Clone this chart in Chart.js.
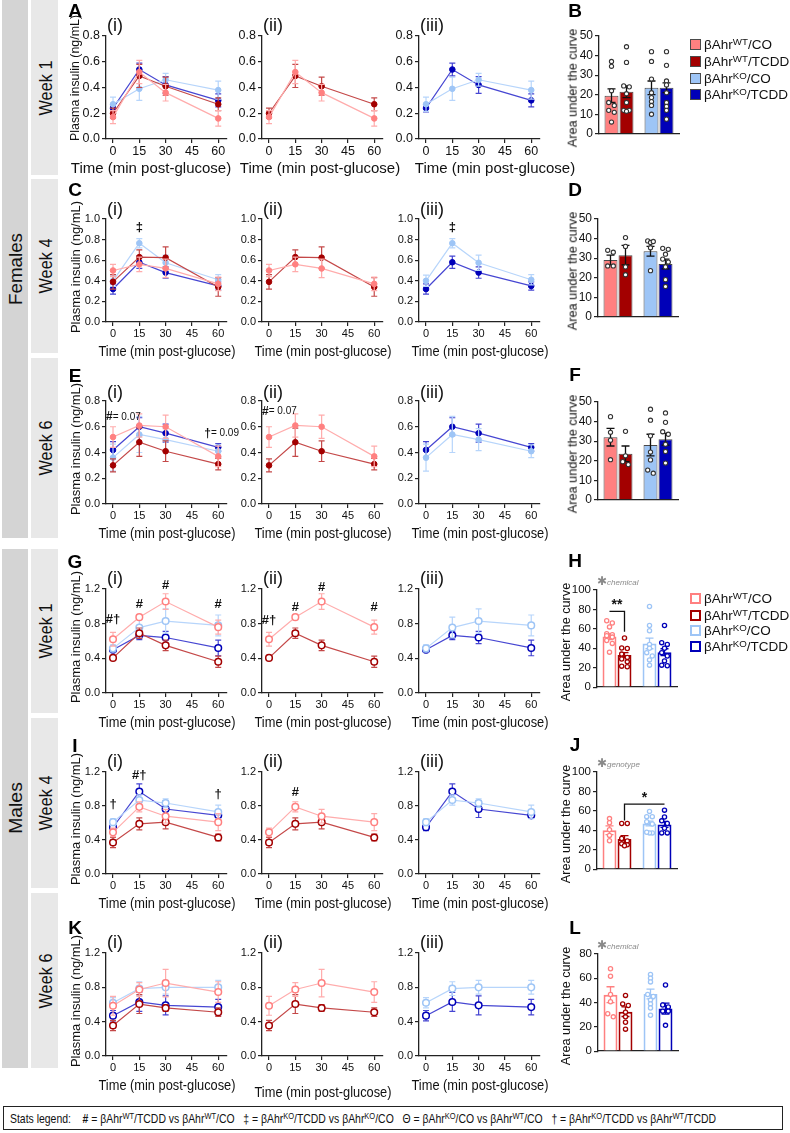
<!DOCTYPE html>
<html><head><meta charset="utf-8">
<script src="https://cdn.jsdelivr.net/npm/chart.js@4.4.1/dist/chart.umd.min.js"></script>
<style>
html,body{margin:0;padding:0;background:#fff}
body{width:790px;height:1133px;position:relative;overflow:hidden;font-family:"Liberation Sans",Arial,Helvetica,sans-serif;color:#1a1a1a}
.t{position:absolute;white-space:nowrap;line-height:1}
sup{font-size:0.72em;vertical-align:0.42em;line-height:0}
</style></head><body>
<script>
// ---------------- DATA ----------------
const times = [0, 15, 30, 60];
const timeTicks = [0, 15, 30, 45, 60];
const yTicks08 = [0, 0.2, 0.4, 0.6, 0.8];
const yTicks10 = [0, 0.2, 0.4, 0.6, 0.8, 1.0];
const yTicks12 = [0, 0.4, 0.8, 1.2];
const aucTicks50 = [0, 10, 20, 30, 40, 50];
const aucTicks100 = [0, 20, 40, 60, 80, 100];
const aucTicks80 = [0, 20, 40, 60, 80];
const groupGenotype = ['WT', 'WT', 'KO', 'KO'];
const groupTreatment = ['CO', 'TCDD', 'CO', 'TCDD'];

// Females, week 1
const f1WtCo = [0.17, 0.52, 0.36, 0.16],   f1WtCoSem = [0.05, 0.09, 0.065, 0.06];
const f1WtTcdd = [0.20, 0.49, 0.41, 0.27], f1WtTcddSem = [0.04, 0.09, 0.07, 0.05];
const f1KoCo = [0.27, 0.39, 0.46, 0.38],   f1KoCoSem = [0.055, 0.09, 0.05, 0.07];
const f1KoTcdd = [0.24, 0.54, 0.42, 0.30], f1KoTcddSem = [0.03, 0.05, 0.065, 0.05];
const f1Auc = [19.5, 21.5, 23.5, 23.5], f1AucSem = [3.5, 3, 3.5, 2.5];
const f1AucDots = [[37, 34.5, 22, 16, 14.5, 12, 11, 6], [44.5, 36.5, 24.5, 24, 20.5, 16, 12, 12, 11.5], [42, 37, 28, 21, 18.5, 16.5, 14.5, 10], [42, 35, 27, 25, 21, 16, 14, 12, 7.5]];

// Females, week 4
const f4WtCo = [0.50, 0.56, 0.52, 0.37],    f4WtCoSem = [0.06, 0.07, 0.09, 0.065];
const f4WtTcdd = [0.39, 0.63, 0.625, 0.34], f4WtTcddSem = [0.07, 0.07, 0.105, 0.09];
const f4KoCo = [0.40, 0.765, 0.575, 0.41],  f4KoCoSem = [0.055, 0.045, 0.075, 0.05];
const f4KoTcdd = [0.32, 0.58, 0.48, 0.35],  f4KoTcddSem = [0.05, 0.06, 0.055, 0.04];
const f4Auc = [29, 31.5, 33.5, 27], f4AucSem = [2.5, 5, 2.5, 2.5];
const f4AucDots = [[34, 33, 26, 26], [40.5, 36, 25.5, 21.5], [38.8, 38, 38.5, 35.3, 23.6], [35, 34.5, 32, 29.5, 28, 25.5, 19, 15.5]];

// Females, week 6
const f6WtCo = [0.52, 0.61, 0.60, 0.37],   f6WtCoSem = [0.08, 0.09, 0.09, 0.08];
const f6WtTcdd = [0.30, 0.48, 0.41, 0.31], f6WtTcddSem = [0.05, 0.11, 0.08, 0.045];
const f6KoCo = [0.36, 0.54, 0.50, 0.41],   f6KoCoSem = [0.105, 0.14, 0.085, 0.05];
const f6KoTcdd = [0.42, 0.60, 0.55, 0.44], f6KoTcddSem = [0.065, 0.07, 0.07, 0.03];
const f6Auc = [32, 23.5, 28, 31], f6AucSem = [4.5, 4, 5.5, 3];
const f6AucDots = [[42.5, 34.5, 30.5, 20.5], [35, 22.5, 19.5, 18], [46.3, 40.7, 32.7, 24.4, 20.4, 15.2, 13.6], [44.4, 39.6, 34.8, 33.5, 28.4, 24.7, 18.8]];

// Males, week 1
const m1WtCo = [0.62, 0.875, 1.055, 0.76],  m1WtCoSem = [0.08, 0.02, 0.09, 0.08];
const m1WtTcdd = [0.405, 0.69, 0.55, 0.36], m1WtTcddSem = [0.02, 0.06, 0.06, 0.065];
const m1KoCo = [0.515, 0.755, 0.83, 0.78], m1KoCoSem = [0.04, 0.12, 0.14, 0.12];
const m1KoTcdd = [0.50, 0.665, 0.64, 0.52], m1KoTcddSem = [0.03, 0.05, 0.07, 0.09];
const m1Auc = [52, 33, 45, 36], m1AucSem = [3, 2.5, 5.5, 3.5];
const m1AucDots = [[68.4, 66, 62, 55, 54, 53, 51.5, 48, 45, 36], [50.6, 40.3, 39.7, 34, 30.6, 29, 26, 21.6, 21], [83, 63.5, 58, 44, 40, 35.5, 32, 28, 22.6], [63.5, 45.8, 44, 40, 35.5, 32, 27, 22.6, 22]];

// Males, week 4
const m4WtCo = [0.49, 0.79, 0.68, 0.61],    m4WtCoSem = [0.05, 0.06, 0.08, 0.10];
const m4WtTcdd = [0.37, 0.59, 0.61, 0.43],  m4WtTcddSem = [0.06, 0.07, 0.08, 0.04];
const m4KoCo = [0.61, 0.87, 0.835, 0.73],   m4KoCoSem = [0.04, 0.06, 0.05, 0.08];
const m4KoTcdd = [0.55, 0.97, 0.765, 0.69], m4KoTcddSem = [0.04, 0.09, 0.10, 0.02];
const m4Auc = [40, 31, 47, 46], m4AucSem = [4.5, 3.5, 2.5, 3];
const m4AucDots = [[52, 47.7, 40.6, 34.7, 29.2], [47, 47, 31.5, 29, 26, 25, 24], [59.4, 54, 54, 48.7, 46.4, 37.3, 37.3, 38], [60.7, 53.6, 49.7, 47, 42, 37.3, 37.3]];

// Males, week 6
const m6WtCo = [0.585, 0.775, 0.85, 0.745], m6WtCoSem = [0.11, 0.08, 0.16, 0.12];
const m6WtTcdd = [0.355, 0.605, 0.56, 0.51], m6WtTcddSem = [0.06, 0.11, 0.04, 0.05];
const m6KoCo = [0.62, 0.785, 0.80, 0.80],   m6KoCoSem = [0.06, 0.08, 0.08, 0.08];
const m6KoTcdd = [0.47, 0.63, 0.59, 0.57],  m6KoTcddSem = [0.06, 0.11, 0.11, 0.09];
const m6Auc = [46.5, 32.5, 47, 35], m6AucSem = [6.5, 4, 4, 4.5];
const m6AucDots = [[67.9, 61.7, 46.6, 40.7, 30.8, 28.2], [45.9, 38.9, 37.6, 32.1, 28.2, 23.8, 18.1], [63.2, 60, 57, 46.6, 45, 42, 38.9, 35.5, 29.5], [54.4, 38, 36.3, 32.9, 32.9, 21.2]];

// ---------------- STYLE ----------------
const FONT = '"Liberation Sans", Arial, sans-serif';
const KEYS = ['wtco', 'wttcdd', 'koco', 'kotcdd'];
const COL = {wtco: '#ff8080', wttcdd: '#a30000', koco: '#9ec5f6', kotcdd: '#0000b8'};
const LCOL = {wtco: '#ffacac', wttcdd: '#c44848', koco: '#b7d5fb', kotcdd: '#4646d2'};
const AXC = '#222';

function addText(html, cx, cy, css, rot, fitW) {
  const e = document.createElement('div');
  e.className = 't';
  e.style.cssText = (css || '');
  e.innerHTML = html;
  e.style.left = cx + 'px'; e.style.top = cy + 'px';
  document.body.appendChild(e);
  let sx = 1;
  if (fitW) sx = fitW / e.offsetWidth;
  e.style.transform = 'translate(-50%,-50%)' + (rot ? ' rotate(' + rot + 'deg)' : '') + (sx !== 1 ? ' scaleX(' + sx + ')' : '');
  return e;
}
function addBox(l, t, w, h, css) {
  const e = document.createElement('div');
  e.style.cssText = 'position:absolute;left:' + l + 'px;top:' + t + 'px;width:' + w + 'px;height:' + h + 'px;' + (css || '');
  document.body.appendChild(e);
  return e;
}
function makeCanvas(l, t, w, h) {
  const wrap = addBox(l, t, w, h);
  const c = document.createElement('canvas');
  c.width = w; c.height = h; c.style.width = w + 'px'; c.style.height = h + 'px';
  wrap.appendChild(c);
  return c;
}
const grpHtml = i => 'βAhr<sup>' + groupGenotype[i] + '</sup>/' + groupTreatment[i];

// ---------------- PLUGINS ----------------
const errPlugin = {
  id: 'errbars',
  beforeDatasetDraw(chart, args) {
    const ds = chart.data.datasets[args.index];
    if (!ds.sem) return;
    const ys = chart.scales.y, ctx = chart.ctx;
    ctx.save();
    ctx.strokeStyle = ds.errColor; ctx.lineWidth = 1.2;
    args.meta.data.forEach((pt, i) => {
      const v = ds.data[i].y, s = ds.sem[i];
      const yt = ys.getPixelForValue(v + s), yb = ys.getPixelForValue(v - s);
      ctx.beginPath();
      ctx.moveTo(pt.x, yt); ctx.lineTo(pt.x, yb);
      ctx.moveTo(pt.x - 3, yt); ctx.lineTo(pt.x + 3, yt);
      ctx.moveTo(pt.x - 3, yb); ctx.lineTo(pt.x + 3, yb);
      ctx.stroke();
    });
    ctx.restore();
  }
};
const notePlugin = {
  id: 'notes',
  afterDraw(chart, args, opts) {
    const items = opts.items || [];
    const ctx = chart.ctx, xs = chart.scales.x, ys = chart.scales.y;
    items.forEach(it => {
      const px = xs.getPixelForValue(it.x) + (it.dx || 0), py = ys.getPixelForValue(it.y);
      ctx.save(); ctx.fillStyle = '#111'; ctx.textBaseline = 'middle'; ctx.textAlign = 'left';
      let total = 0;
      it.parts.forEach(p => { ctx.font = (p.b ? 'bold ' : '') + p.s + 'px ' + FONT; p.w = ctx.measureText(p.t).width; total += p.w; });
      let x0 = it.align === 'left' ? px : px - total / 2;
      it.parts.forEach(p => { ctx.font = (p.b ? 'bold ' : '') + p.s + 'px ' + FONT; ctx.fillText(p.t, x0, py + (p.dy || 0)); x0 += p.w; });
      ctx.restore();
    });
  }
};
// pair up dots whose values nearly coincide (like a scatter-dot plot)
function jitterOffsets(vals, toPx) {
  const idx = vals.map((v, i) => i).sort((a, b) => vals[b] - vals[a]);
  const off = new Array(vals.length).fill(0);
  let j = 0;
  while (j < idx.length) {
    if (j + 1 < idx.length && Math.abs(toPx(vals[idx[j]]) - toPx(vals[idx[j + 1]])) < 3.6) {
      off[idx[j]] = -2.8; off[idx[j + 1]] = 2.8; j += 2;
    } else { j += 1; }
  }
  return off;
}
const barExtras = {
  id: 'barExtras',
  afterDatasetsDraw(chart, args, opts) {
    const ctx = chart.ctx, ys = chart.scales.y;
    const male = opts.male;
    chart.data.datasets.forEach((ds, di) => {
      const meta = chart.getDatasetMeta(di);
      meta.data.forEach((bar, i) => {
        const key = ds.keys[i];
        const v = ds.data[i], s = ds.sem[i];
        const yt = ys.getPixelForValue(v + s), yb = ys.getPixelForValue(v - s);
        ctx.save();
        ctx.strokeStyle = male ? COL[key] : '#111'; ctx.lineWidth = 1.3;
        ctx.beginPath();
        ctx.moveTo(bar.x, yt); ctx.lineTo(bar.x, yb);
        ctx.moveTo(bar.x - 4, yt); ctx.lineTo(bar.x + 4, yt);
        ctx.moveTo(bar.x - 4, yb); ctx.lineTo(bar.x + 4, yb);
        ctx.stroke();
        const dots = ds.dots[i];
        const off = jitterOffsets(dots, d => ys.getPixelForValue(d));
        dots.forEach((d, k) => {
          ctx.beginPath();
          ctx.arc(bar.x + off[k], ys.getPixelForValue(d), 2.1, 0, Math.PI * 2);
          ctx.fillStyle = '#fff'; ctx.fill();
          ctx.lineWidth = male ? 1.3 : 1.1;
          ctx.strokeStyle = male ? COL[key] : '#333';
          ctx.stroke();
        });
        ctx.restore();
      });
    });
    (opts.brackets || []).forEach(b => {
      const ba = chart.getDatasetMeta(b.from[0]).data[b.from[1]];
      const bb = chart.getDatasetMeta(b.to[0]).data[b.to[1]];
      const yl = ys.getPixelForValue(b.y);
      ctx.save(); ctx.strokeStyle = '#111'; ctx.lineWidth = 1.3;
      ctx.beginPath();
      ctx.moveTo(ba.x, b.dropFrom != null ? ys.getPixelForValue(b.dropFrom) : yl);
      ctx.lineTo(ba.x, yl); ctx.lineTo(bb.x, yl);
      ctx.lineTo(bb.x, b.dropTo != null ? ys.getPixelForValue(b.dropTo) : yl);
      ctx.stroke();
      ctx.fillStyle = '#111'; ctx.font = 'bold 14px ' + FONT; ctx.textAlign = 'center'; ctx.textBaseline = 'middle';
      ctx.fillText(b.label, (ba.x + bb.x) / 2, yl - 6);
      ctx.restore();
    });
  }
};

// ---------------- PANEL BUILDERS ----------------
function lineSet(key, vals, sem, male) {
  return {
    data: times.map((t, i) => ({x: t, y: vals[i]})),
    sem: sem, errColor: LCOL[key],
    borderColor: LCOL[key], borderWidth: 1.2, tension: 0, fill: false,
    pointRadius: male ? 3.3 : 2.8,
    pointBackgroundColor: male ? '#fff' : COL[key],
    pointBorderColor: COL[key], pointBorderWidth: male ? 1.5 : 1
  };
}
function linePanel(cfg) {
  const YW = 44, PT = 14, PR = 16, XH = 22, PW = 121;
  const w = YW + PW + PR, h = PT + (cfg.bottom - cfg.top) + XH;
  const c = makeCanvas(cfg.axisX - YW, cfg.top - PT, w, h);
  const fs = cfg.fs;
  new Chart(c, {
    type: 'line',
    data: {datasets: cfg.sets},
    options: {
      animation: false, responsive: false, devicePixelRatio: 1,
      layout: {padding: {top: PT, right: PR, left: 0, bottom: 0}},
      plugins: {legend: {display: false}, tooltip: {enabled: false}, notes: {items: cfg.notes || []}},
      scales: {
        x: {
          type: 'linear', min: -4, max: 65,
          afterBuildTicks: s => { s.ticks = timeTicks.map(v => ({value: v})); },
          afterFit: s => { s.height = XH; },
          grid: {drawOnChartArea: false, tickLength: 4, color: AXC, lineWidth: 1.2},
          border: {color: AXC, width: 1.3},
          ticks: {font: {size: fs, family: FONT}, color: '#111', padding: 1, maxRotation: 0, autoSkip: false}
        },
        y: {
          min: 0, max: cfg.yTicks[cfg.yTicks.length - 1],
          afterBuildTicks: s => { s.ticks = cfg.yTicks.map(v => ({value: v})); },
          afterFit: s => { s.width = YW; },
          grid: {drawOnChartArea: false, tickLength: 4, color: AXC, lineWidth: 1.2},
          border: {color: AXC, width: 1.3},
          ticks: {font: {size: fs, family: FONT}, color: '#111', padding: 2, callback: v => Number(v).toFixed(1)}
        }
      }
    },
    plugins: [errPlugin, notePlugin]
  });
}
function barPanel(cfg) {
  const YW = 40, PT = 12, PR = 10, XH = 3, PW = 80;
  const w = YW + PW + PR, h = PT + (cfg.bottom - cfg.top) + XH;
  const c = makeCanvas(cfg.axisX - YW, cfg.top - PT, w, h);
  const male = cfg.male;
  const mk = (a, b) => ({
    data: [cfg.mean[a], cfg.mean[b]], sem: [cfg.sem[a], cfg.sem[b]], dots: [cfg.dots[a], cfg.dots[b]],
    keys: [KEYS[a], KEYS[b]],
    backgroundColor: male ? '#ffffff' : [COL[KEYS[a]], COL[KEYS[b]]],
    borderColor: male ? [COL[KEYS[a]], COL[KEYS[b]]] : '#4a4a4a',
    borderWidth: male ? 2 : 1, borderSkipped: 'bottom',
    categoryPercentage: 0.75, barPercentage: 0.93
  });
  new Chart(c, {
    type: 'bar',
    data: {labels: ['βAhrWT', 'βAhrKO'], datasets: [mk(0, 2), mk(1, 3)]},
    options: {
      animation: false, responsive: false, devicePixelRatio: 1,
      layout: {padding: {top: PT, right: PR, left: 0, bottom: 0}},
      plugins: {legend: {display: false}, tooltip: {enabled: false}, barExtras: {male: male, brackets: cfg.brackets || []}},
      scales: {
        x: {type: 'category', offset: true, grid: {display: false}, ticks: {display: false},
            border: {color: AXC, width: 1.3}, afterFit: s => { s.height = XH; }},
        y: {
          min: 0, max: cfg.ticks[cfg.ticks.length - 1],
          afterBuildTicks: s => { s.ticks = cfg.ticks.map(v => ({value: v})); },
          afterFit: s => { s.width = YW; },
          grid: {drawOnChartArea: false, tickLength: 4, color: AXC, lineWidth: 1.2},
          border: {color: AXC, width: 1.3},
          ticks: {font: {size: male ? 11.5 : 12, family: FONT}, color: '#111', padding: 2}
        }
      }
    },
    plugins: [barExtras]
  });
}

// ---------------- LAYOUT ----------------
addBox(2, 0, 26, 538, 'background:#d4d4d4');
addBox(2, 549, 26, 519, 'background:#d4d4d4');
const weekBoxes = [[0, 175], [179, 353], [358, 538], [549, 713], [718, 888], [893, 1068]];
const weekNames = ['Week 1', 'Week 4', 'Week 6', 'Week 1', 'Week 4', 'Week 6'];
weekBoxes.forEach((b, i) => {
  addBox(31, b[0], 27, b[1] - b[0], 'background:#e8e8e8');
  addText(weekNames[i], 45, (b[0] + b[1]) / 2, 'font-size:19px;color:#111', -90, 55);
});
addText('Females', 15, 269, 'font-size:19px;color:#111', -90, 72);
addText('Males', 15, 808, 'font-size:19px;color:#111', -90, 52);

const AX = [106, 262, 419];
const rows = [
  {letter: 'A', bl: 'B', top: 36, bottom: 139, yT: yTicks08, fs: 12.5, male: false, lc: 10, bc: 10, rl: 25, d: ['f1', f1WtCo, f1WtCoSem, f1WtTcdd, f1WtTcddSem, f1KoCo, f1KoCoSem, f1KoTcdd, f1KoTcddSem], auc: [f1Auc, f1AucSem, f1AucDots, aucTicks50, 599, 36, 140]},
  {letter: 'C', bl: 'D', top: 219, bottom: 322, yT: yTicks10, fs: 11, male: false, lc: 189, bc: 189, rl: 209, d: ['f4', f4WtCo, f4WtCoSem, f4WtTcdd, f4WtTcddSem, f4KoCo, f4KoCoSem, f4KoTcdd, f4KoTcddSem], auc: [f4Auc, f4AucSem, f4AucDots, aucTicks50, 598, 219, 323]},
  {letter: 'E', bl: 'F', top: 401, bottom: 504, yT: yTicks08, fs: 11, male: false, lc: 375, bc: 374, rl: 392, d: ['f6', f6WtCo, f6WtCoSem, f6WtTcdd, f6WtTcddSem, f6KoCo, f6KoCoSem, f6KoTcdd, f6KoTcddSem], auc: [f6Auc, f6AucSem, f6AucDots, aucTicks50, 598, 402, 506]},
  {letter: 'G', bl: 'H', top: 589, bottom: 693, yT: yTicks12, fs: 11, male: true, lc: 561, bc: 560, rl: 578, d: ['m1', m1WtCo, m1WtCoSem, m1WtTcdd, m1WtTcddSem, m1KoCo, m1KoCoSem, m1KoTcdd, m1KoTcddSem], auc: [m1Auc, m1AucSem, m1AucDots, aucTicks100, 597, 590, 693]},
  {letter: 'I', bl: 'J', top: 772, bottom: 874, yT: yTicks12, fs: 11, male: true, lc: 745, bc: 744, rl: 761, d: ['m4', m4WtCo, m4WtCoSem, m4WtTcdd, m4WtTcddSem, m4KoCo, m4KoCoSem, m4KoTcdd, m4KoTcddSem], auc: [m4Auc, m4AucSem, m4AucDots, aucTicks100, 597, 772, 875]},
  {letter: 'K', bl: 'L', top: 953, bottom: 1056, yT: yTicks12, fs: 11, male: true, lc: 927, bc: 927, rl: 942, d: ['m6', m6WtCo, m6WtCoSem, m6WtTcdd, m6WtTcddSem, m6KoCo, m6KoCoSem, m6KoTcdd, m6KoTcddSem], auc: [m6Auc, m6AucSem, m6AucDots, aucTicks80, 598, 954, 1057]}
];

const B = s => [{t: s, s: 13, b: true}];
const P = (sym) => [{t: sym, s: 12, b: true}, {t: '= 0.07', s: 10}];
const notes = {
  f4: [[{x: 15, y: 0.92, parts: B('‡')}], [], [{x: 15, y: 0.92, parts: B('‡')}]],
  f6: [[{x: 0, y: 0.675, dx: -7, align: 'left', parts: P('#')},
        {x: 60, y: 0.55, dx: -14, align: 'left', parts: [{t: '†', s: 12, b: true}, {t: '= 0.09', s: 10}]}],
       [{x: 0, y: 0.72, dx: -7, align: 'left', parts: P('#')}], []],
  m1: [[{x: 0, y: 0.85, parts: B('#†')}, {x: 15, y: 1.02, parts: B('#')}, {x: 30, y: 1.24, parts: B('#')}, {x: 60, y: 1.02, parts: B('#')}],
       [{x: 0, y: 0.84, parts: B('#†')}, {x: 15, y: 0.99, parts: B('#')}, {x: 30, y: 1.22, parts: B('#')}, {x: 60, y: 0.99, parts: B('#')}], []],
  m4: [[{x: 0, y: 0.82, parts: B('†')}, {x: 15, y: 1.16, parts: B('#†')}, {x: 60, y: 0.94, parts: B('†')}],
       [{x: 15, y: 0.965, parts: B('#')}], []]
};
const brackets = {
  m1: [{from: [0, 0], to: [1, 0], y: 78, dropTo: 57, label: '**'}],
  m4: [{from: [1, 0], to: [1, 1], y: 67, dropFrom: 50, label: '*'}]
};
const stars = {m1: 'chemical', m4: 'genotype', m6: 'chemical'};

rows.forEach((r, ri) => {
  const [id, wc, wcs, wt, wts, kc, kcs, kt, kts] = r.d;
  const m = r.male;
  const all = [lineSet('wtco', wc, wcs, m), lineSet('wttcdd', wt, wts, m), lineSet('koco', kc, kcs, m), lineSet('kotcdd', kt, kts, m)];
  const panelSets = [all, [lineSet('wtco', wc, wcs, m), lineSet('wttcdd', wt, wts, m)], [lineSet('koco', kc, kcs, m), lineSet('kotcdd', kt, kts, m)]];
  const nn = notes[id] || [[], [], []];
  ['(i)', '(ii)', '(iii)'].forEach((lab, pi) => {
    linePanel({axisX: AX[pi], top: r.top, bottom: r.bottom, yTicks: r.yT, fs: r.fs, sets: panelSets[pi], notes: nn[pi]});
    const e = addText(lab, 0, r.rl, 'font-size:18px;color:#111');
    e.style.left = (AX[pi] + 1) + 'px';
    e.style.transform = 'translate(0,-50%)';
    if (ri === 0) {
      const cxs = [151, 320, 495];
      addText('Time (min post-glucose)', cxs[pi], r.bottom + 28, 'font-size:15px;color:#111');
    } else {
      const dy = (ri === 5 && pi === 1) ? 36 : 29;
      addText('Time (min post-glucose)', AX[pi] + 61, r.bottom + dy, 'font-size:14.5px;color:#111', 0, 137);
    }
  });
  addText('Plasma insulin (ng/mL)', 75, (r.top + r.bottom) / 2 - (ri === 0 ? 10 : 4), 'font-size:' + (ri === 0 ? 12.4 : 13) + 'px;color:#111', -90);
  addText(r.letter, 75, r.lc, 'font-size:19px;font-weight:bold;color:#000');
  addText(r.bl, 575, r.bc, 'font-size:19px;font-weight:bold;color:#000');
  const a = r.auc;
  barPanel({mean: a[0], sem: a[1], dots: a[2], ticks: a[3], axisX: a[4], top: a[5], bottom: a[6], male: m, brackets: brackets[id]});
  addText('Area under the curve', m ? 566 : 573, (a[5] + a[6]) / 2, 'font-size:12.7px;color:#111', -90);
  if (stars[id]) {
    const e = addText('<span style="font-size:12px">✱</span><i style="font-size:8px">' + stars[id] + '</i>', 0, a[5] - 10, 'color:#8a8a8a');
    e.style.left = '597px'; e.style.transform = 'translate(0,-50%)';
  }
});

function legend(x, ys, male) {
  ys.forEach((y, i) => {
    const k = KEYS[i];
    if (male) addBox(x, y - 5, 11, 11, 'box-sizing:border-box;background:#fff;border:2px solid ' + COL[k]);
    else addBox(x, y - 5, 11, 11, 'box-sizing:border-box;background:' + COL[k] + ';border:1px solid #4a4a4a');
    const e = addText(grpHtml(i), 0, y + 1, 'font-size:13.5px;color:#111');
    e.style.left = (x + 14) + 'px'; e.style.transform = 'translate(0,-50%)';
  });
}
legend(690, [44, 61, 78, 94], false);
legend(690, [598, 615, 630, 646], true);

addBox(3, 1106, 780, 24, 'box-sizing:border-box;border:1.5px solid #222');
const st = addText('Stats legend:&nbsp;&nbsp;&nbsp; <b>#</b> = βAhr<sup>WT</sup>/TCDD vs βAhr<sup>WT</sup>/CO &nbsp;&nbsp;‡ = βAhr<sup>KO</sup>/TCDD vs βAhr<sup>KO</sup>/CO &nbsp;&nbsp;Θ = βAhr<sup>KO</sup>/CO vs βAhr<sup>WT</sup>/CO &nbsp;&nbsp;† = βAhr<sup>KO</sup>/TCDD vs βAhr<sup>WT</sup>/TCDD', 0, 1118, 'font-size:13px;color:#111');
const sw = st.offsetWidth;
st.style.left = '10px';
st.style.transformOrigin = '0 50%';
st.style.transform = 'translate(0,-50%) scaleX(' + (706 / sw) + ')';
</script>
</body></html>
